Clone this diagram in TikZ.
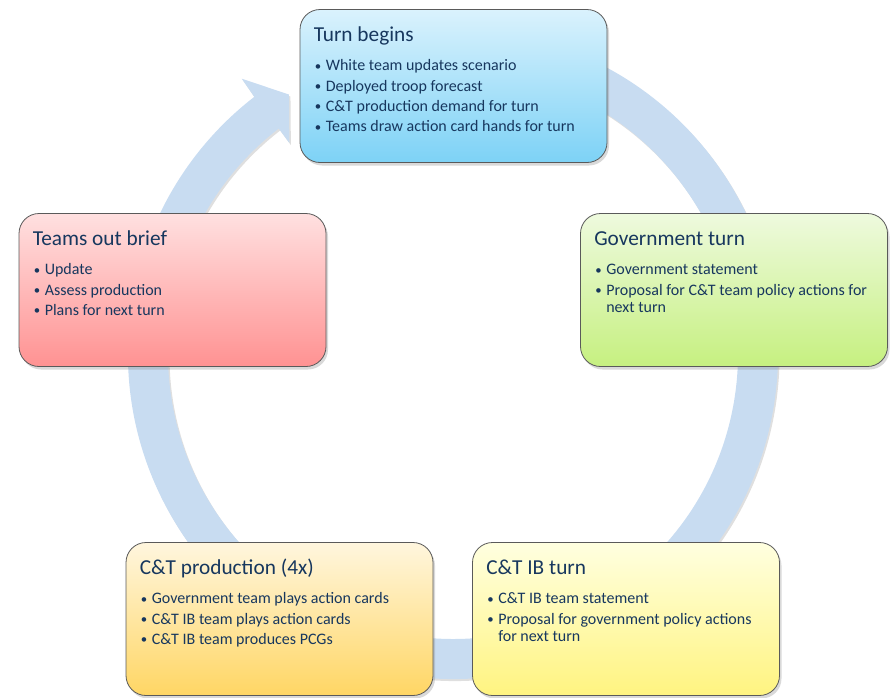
\documentclass[tikz,border=0pt]{standalone}
\usepackage{fontspec}
\setmainfont{Carlito}
\usepackage{tikz}
\usetikzlibrary{shadows}

\definecolor{cardtext}{RGB}{23,55,94}
\definecolor{ringblue}{RGB}{200,220,241}
\definecolor{cardline}{RGB}{90,90,90}

\tikzstyle{card} = [rectangle, rounded corners=20pt, minimum width=307pt, minimum height=153pt, draw=cardline, line width=0.8pt, drop shadow={shadow xshift=2pt, shadow yshift=-3pt, opacity=0.3}]
\tikzstyle{cardtxt} = [anchor=base west, inner sep=0pt, text=cardtext]
\tikzstyle{cyclearrow} = [fill=ringblue, drop shadow={shadow xshift=1.5pt, shadow yshift=-2pt, opacity=0.25}]

\newcommand{\cardtitle}[1]{{\fontsize{21.3}{25}\selectfont #1\par}\vspace{8.8pt}}
\newcommand{\bul}[1]{\par\hangindent=12pt\hangafter=1\noindent\makebox[12pt][l]{\hspace{1pt}\raisebox{0.6pt}{\scalebox{0.8}{\textbullet}}}#1}
\newcommand{\cardbody}[1]{\parbox[t]{285pt}{\raggedright\fontsize{16}{17.5}\selectfont\parskip=2.8pt #1}}

\begin{document}
\begin{tikzpicture}[x=1pt, y=1pt]

	\useasboundingbox (0,0) rectangle (891,-697);

	\coordinate (hub) at (453,-354);
	\begin{scope}[shift={(hub)}]
		\fill [cyclearrow] (80:325) arc[start angle=80, end angle=-232.3, radius=325]
			-- (127.5:347) -- (122.3:307) -- (127.8:267) -- (127.7:285)
			arc[start angle=-232.3, end angle=80, radius=285] -- cycle;
	\end{scope}

	\node (turnbegins) [card, top color={rgb,255:red,218;green,242;blue,253}, bottom color={rgb,255:red,125;green,210;blue,246}] at (453.5,-86) {};
	\node (govturn) [card, top color={rgb,255:red,238;green,250;blue,222}, bottom color={rgb,255:red,198;green,240;blue,128}] at (734,-290) {};
	\node (ibturn) [card, top color={rgb,255:red,255;green,255;blue,224}, bottom color={rgb,255:red,255;green,244;blue,128}] at (626,-619) {};
	\node (production) [card, top color={rgb,255:red,255;green,246;blue,222}, bottom color={rgb,255:red,255;green,214;blue,100}] at (279.5,-619) {};
	\node (outbrief) [card, top color={rgb,255:red,255;green,224;blue,224}, bottom color={rgb,255:red,255;green,146;blue,146}] at (172.5,-290) {};

	\node (turnbeginstext) [cardtxt] at ([shift={(14pt,-32.7pt)}]turnbegins.north west) {\cardbody{\cardtitle{Turn begins}
		\bul{White team updates scenario}
		\bul{Deployed troop forecast}
		\bul{C\&T production demand for turn}
		\bul{Teams draw action card hands for turn}}};
	\node (govturntext) [cardtxt] at ([shift={(14pt,-32.7pt)}]govturn.north west) {\cardbody{\cardtitle{Government turn}
		\bul{Government statement}
		\bul{Proposal for C\&T team policy actions for\newline next turn}}};
	\node (ibturntext) [cardtxt] at ([shift={(14pt,-32.7pt)}]ibturn.north west) {\cardbody{\cardtitle{C\&T IB turn}
		\bul{C\&T IB team statement}
		\bul{Proposal for government policy actions\newline for next turn}}};
	\node (productiontext) [cardtxt] at ([shift={(14pt,-32.7pt)}]production.north west) {\cardbody{\cardtitle{C\&T production (4x)}
		\bul{Government team plays action cards}
		\bul{C\&T IB team plays action cards}
		\bul{C\&T IB team produces PCGs}}};
	\node (outbrieftext) [cardtxt] at ([shift={(14pt,-32.7pt)}]outbrief.north west) {\cardbody{\cardtitle{Teams out brief}
		\bul{Update}
		\bul{Assess production}
		\bul{Plans for next turn}}};

\end{tikzpicture}
\end{document}
